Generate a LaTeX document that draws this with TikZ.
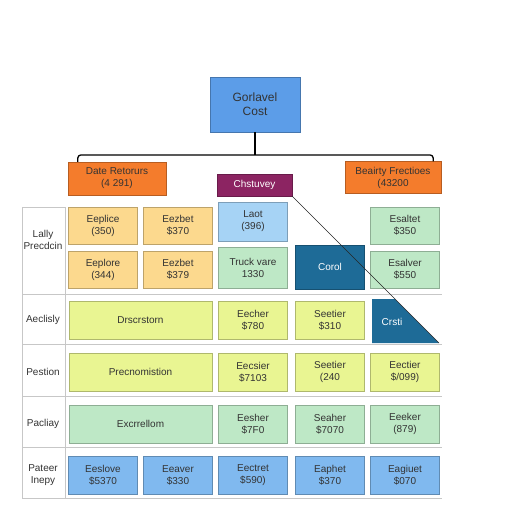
\documentclass[tikz,border=0pt]{standalone}
\usepackage{fontspec}
\setmainfont{Liberation Sans}
\definecolor{topblue}{HTML}{5C9DE8}
\definecolor{orng}{HTML}{F47C2C}
\definecolor{plum}{HTML}{8C2462}
\definecolor{peach}{HTML}{FCD98E}
\definecolor{skyb}{HTML}{A6D3F5}
\definecolor{mint}{HTML}{BEE8C6}
\definecolor{deepb}{HTML}{1E6B97}
\definecolor{lime}{HTML}{E9F592}
\definecolor{midb}{HTML}{80B9EF}
\definecolor{txt}{HTML}{333333}
\tikzset{
  cell/.style={draw=#1!75!black, fill=#1, minimum width=69pt, minimum height=38pt,
    align=center, inner sep=1pt, text=txt, font=\fontsize{10}{12}\selectfont},
  wide/.style={cell=#1, minimum width=143pt},
  rowlab/.style={align=center, text=txt, font=\fontsize{10}{12}\selectfont},
  grid/.style={draw=black!22, line width=0.8pt}
}
\begin{document}
\begin{tikzpicture}[x=1pt, y=-1pt]
 \useasboundingbox (0,0) rectangle (512,512);
 % head of the tree
 \node[cell=topblue, minimum width=90pt, minimum height=55pt, font=\fontsize{12}{14}\selectfont] (cost) at (255,104.5) {Gorlavel\\Cost};
 \node[cell=orng, minimum width=98pt, minimum height=33pt] (ret) at (117,178.5) {Date Retorurs\\(4 291)};
 \node[cell=orng, minimum width=96pt, minimum height=32pt] (bea) at (393,177.5) {Beairty Frectioes\\(43200};
 \node[cell=plum, minimum width=75pt, minimum height=22pt, text=white] (survey) at (254.5,185) {Chstuvey};
 \coordinate (bus) at (255,155);
 \draw[line width=1.3pt] (cost) -- (bus);
 \draw[line width=1.3pt, rounded corners=3pt] ([xshift=10pt]ret.north west) |- (bus) -| ([xshift=-8pt]bea.north east);
 % table frame
 \draw[grid] (22,207) -- (65,207) -- (65,498);
 \draw[grid] (22,207) -- (22,498);
 \foreach \y in {294,344,396,447,498}
   \draw[grid] (22,\y) -- (442,\y);
 % row labels
 \node[rowlab] (l1) at (43,240) {Lally\\Precdcin};
 \node[rowlab] (l2) at (43,320) {Aeclisly};
 \node[rowlab] (l3) at (43,372) {Pestion};
 \node[rowlab] (l4) at (43,424) {Pacliay};
 \node[rowlab] (l5) at (43,475) {Pateer\\Inepy};
 % first row
 \node[cell=peach, minimum height=37pt] (a1) at (103,225.5) {Eeplice\\(350)};
 \node[cell=peach, minimum height=37pt] (a2) at (178,225.5) {Eezbet\\\$370};
 \node[cell=peach, minimum height=37pt] (b1) at (103,269.5) {Eeplore\\(344)};
 \node[cell=peach, minimum height=37pt] (b2) at (178,269.5) {Eezbet\\\$379};
 \node[cell=skyb, minimum height=39pt] (a3) at (253,221.5) {Laot\\(396)};
 \node[cell=mint, minimum height=41pt] (b3) at (253,267.5) {Truck vare\\1330};
 \node[cell=deepb, minimum height=44pt, text=white] (corol) at (330,267) {Corol};
 \node[cell=mint, minimum height=37pt] (a5) at (405,225.5) {Esaltet\\\$350};
 \node[cell=mint, minimum height=37pt] (b5) at (405,269.5) {Esalver\\\$550};
 % cut corner
 \fill[deepb] (372,299) -- (395,299) -- (439,343) -- (372,343) -- cycle;
 \node[text=white, font=\fontsize{10}{12}\selectfont] (crsti) at (392,322) {Crsti};
 \coordinate (cut) at (439,343);
 \draw[black!85, line width=0.6pt] (survey.south east) -- (cut);
 % second row
 \node[wide=lime] (c1) at (140.5,320) {Drscrstorn};
 \node[cell=lime] (c3) at (253,320) {Eecher\\\$780};
 \node[cell=lime] (c4) at (330,320) {Seetier\\\$310};
 % third row
 \node[wide=lime] (d1) at (140.5,372) {Precnomistion};
 \node[cell=lime] (d3) at (253,372) {Eecsier\\\$7103};
 \node[cell=lime] (d4) at (330,372) {Seetier\\(240};
 \node[cell=lime] (d5) at (405,372) {Eectier\\\$/099)};
 % fourth row
 \node[wide=mint] (e1) at (140.5,424) {Excrrellom};
 \node[cell=mint] (e3) at (253,424) {Eesher\\\$7F0};
 \node[cell=mint] (e4) at (330,424) {Seaher\\\$7070};
 \node[cell=mint] (e5) at (405,424) {Eeeker\\(879)};
 % fifth row
 \node[cell=midb] (f1) at (103,475) {Eeslove\\\$5370};
 \node[cell=midb] (f2) at (178,475) {Eeaver\\\$330};
 \node[cell=midb] (f3) at (253,475) {Eectret\\\$590)};
 \node[cell=midb] (f4) at (330,475) {Eaphet\\\$370};
 \node[cell=midb] (f5) at (405,475) {Eagiuet\\\$070};
\end{tikzpicture}
\end{document}
